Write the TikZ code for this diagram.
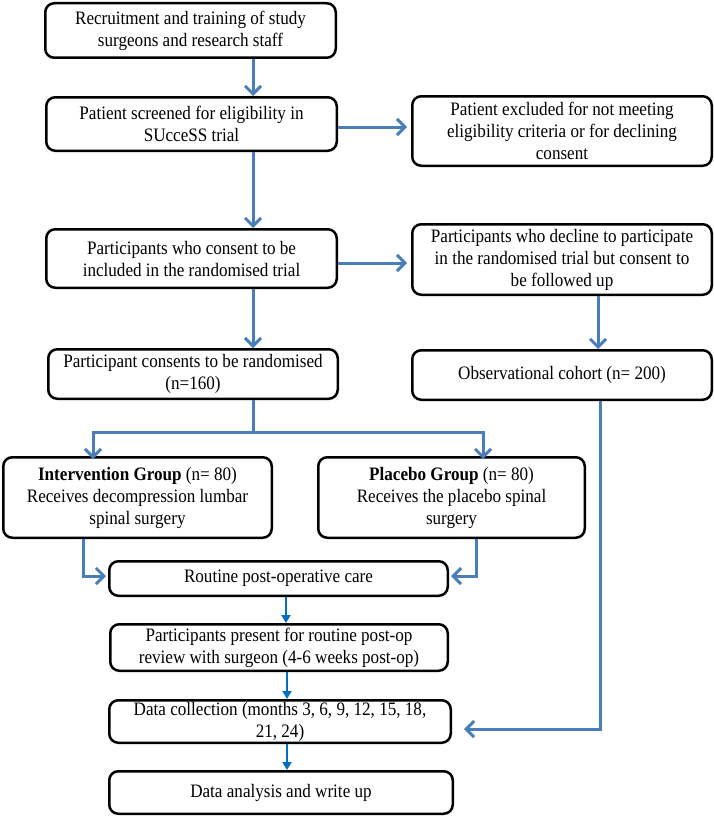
\documentclass[tikz,border=0pt]{standalone}
\usepackage{fontspec}
\setmainfont[FakeStretch=0.9]{Liberation Serif}
\usetikzlibrary{arrows.meta,calc}
\definecolor{arrblue}{HTML}{4A7EBB}
\definecolor{smblue}{HTML}{0070C0}
\begin{document}
\begin{tikzpicture}[x=1pt,y=-1pt,
  box/.style={draw=black,line width=2.5pt,rounded corners=9pt,align=center,inner sep=0pt,
    font=\fontsize{19}{22}\selectfont},
  arr/.style={draw=arrblue,line width=3pt,-{Straight Barb[length=8pt,width=16pt,line width=3pt]}},
  arrl/.style={draw=arrblue,line width=3pt},
  sarr/.style={draw=smblue,line width=2pt,-{Triangle[length=8pt,width=9pt]}}]
\useasboundingbox (0,0) rectangle (714,816);
\node[box,minimum width=290.5pt,minimum height=54.5pt] (b1) at (190.5,30.5)
  {Recruitment and training of study\\surgeons and research staff};
\node[box,minimum width=290.5pt,minimum height=53.5pt] (b2) at (191.5,124)
  {Patient screened for eligibility in\\SUcceSS trial};
\node[box,minimum width=299.5pt,minimum height=69.5pt] (b3) at (562,131)
  {Patient excluded for not meeting\\eligibility criteria or for declining\\consent};
\node[box,minimum width=290.5pt,minimum height=58.5pt] (b4) at (191.5,258.5)
  {Participants who consent to be\\included in the randomised trial};
\node[box,minimum width=299.5pt,minimum height=70.5pt] (b5) at (562,259.5)
  {Participants who decline to participate\\in the randomised trial but consent to\\be followed up};
\node[box,minimum width=289.5pt,minimum height=49.5pt] (b6) at (193,374)
  {Participant consents to be randomised\\(n=160)};
\node[box,minimum width=299.5pt,minimum height=49.5pt] (b7) at (562,375)
  {Observational cohort (n= 200)};
\node[box,minimum width=268.5pt,minimum height=80.5pt] (b8) at (137.5,497.5)
  {\textbf{Intervention Group} (n= 80)\\Receives decompression lumbar\\spinal surgery};
\node[box,minimum width=266.5pt,minimum height=80.5pt] (b9) at (451.5,497.5)
  {\textbf{Placebo Group} (n= 80)\\Receives the placebo spinal\\surgery};
\node[box,minimum width=338.5pt,minimum height=34.5pt] (b10) at (278.5,578.5)
  {Routine post-operative care};
\node[box,minimum width=337.5pt,minimum height=46.5pt] (b11) at (279,647.5)
  {Participants present for routine post-op\\review with surgeon (4-6 weeks post-op)};
\node[box,minimum width=341.5pt,minimum height=42.5pt] (b12) at (280,721.5)
  {Data collection (months 3, 6, 9, 12, 15, 18,\\21, 24)};
\node[box,minimum width=343.5pt,minimum height=42.5pt] (b13) at (281,792.5)
  {Data analysis and write up};
% helper coordinates
\coordinate (vx) at (253,0);
\coordinate (vr) at (598,0);
\coordinate (r1) at (0,127);
\coordinate (r2) at (0,263);
\coordinate (split) at (253,432);
\coordinate (sl) at (93,432);
\coordinate (sr) at (483,432);
\coordinate (l1) at (83,576);
\coordinate (l2) at (476,576);
\coordinate (obs) at (600,729);
\coordinate (mx) at (286,0);
% arrows
\draw[arr] (b1.south -| vx) -- (b2.north -| vx);
\draw[arr] (b2.east |- r1) -- ([xshift=-4pt]b3.west |- r1);
\draw[arr] (b2.south -| vx) -- (b4.north -| vx);
\draw[arr] (b4.east |- r2) -- ([xshift=-4pt]b5.west |- r2);
\draw[arr] (b4.south -| vx) -- (b6.north -| vx);
\draw[arr] (b5.south -| vr) -- (b7.north -| vr);
\draw[arrl] (b6.south -| vx) -- (split);
\draw[arr,line cap=butt] (split) -- (sl) -- ([yshift=-3pt]b8.north -| sl);
\draw[arr] (split) -- (sr) -- ([yshift=-3pt]b9.north -| sr);
\draw[arr] (b8.south -| l1) -- (l1) -- ([xshift=-2pt]b10.west |- l1);
\draw[arr] (b9.south -| l2) -- (l2) -- ([xshift=2pt]b10.east |- l2);
\draw[arr] (b7.south -| obs) -- (obs) -- ([xshift=12pt]b12.east |- obs);
\draw[sarr] (b10.south -| mx) -- (b11.north -| mx);
\draw[sarr] ([xshift=1pt]b11.south -| mx) -- ([xshift=1pt]b12.north -| mx);
\draw[sarr] ([xshift=1pt]b12.south -| mx) -- ([xshift=1pt]b13.north -| mx);
\end{tikzpicture}
\end{document}
